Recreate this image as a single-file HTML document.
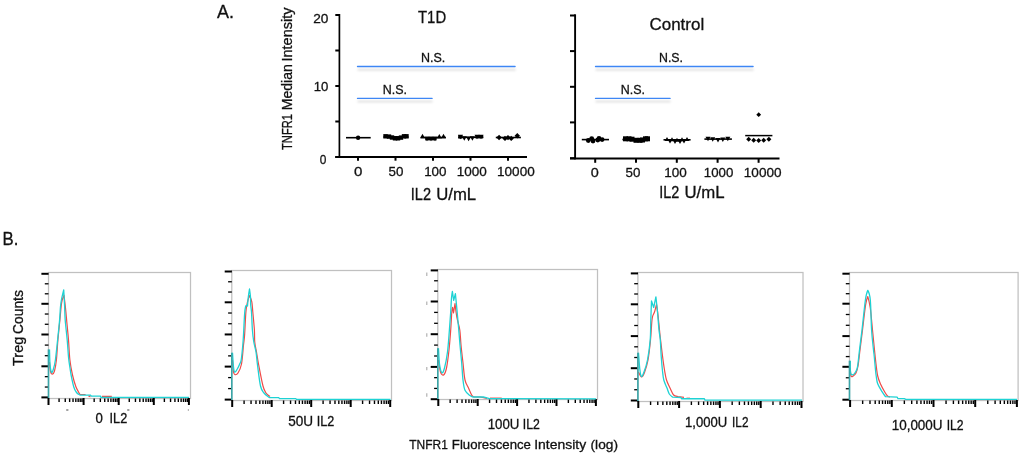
<!DOCTYPE html>
<html><head><meta charset="utf-8"><style>
html,body{margin:0;padding:0;background:#fff;width:1024px;height:456px;overflow:hidden}
svg{display:block;will-change:transform}
text{font-family:"Liberation Sans",sans-serif;fill:#111;stroke:#111;stroke-width:0.3}
</style></head><body>
<svg width="1024" height="456" viewBox="0 0 1024 456">
<rect width="1024" height="456" fill="#fff"/>
<line x1="339.40" y1="14.00" x2="339.40" y2="157.90" stroke="#000" stroke-width="1.7" />
<line x1="335.30" y1="15.00" x2="339.40" y2="15.00" stroke="#000" stroke-width="2" />
<line x1="335.30" y1="50.50" x2="339.40" y2="50.50" stroke="#000" stroke-width="2" />
<line x1="335.30" y1="86.00" x2="339.40" y2="86.00" stroke="#000" stroke-width="2" />
<line x1="335.30" y1="121.50" x2="339.40" y2="121.50" stroke="#000" stroke-width="2" />
<line x1="335.30" y1="157.00" x2="339.40" y2="157.00" stroke="#000" stroke-width="2" />
<line x1="335.30" y1="156.90" x2="527.00" y2="156.90" stroke="#000" stroke-width="2" />
<line x1="358.00" y1="156.90" x2="358.00" y2="160.70" stroke="#000" stroke-width="2" />
<line x1="395.50" y1="156.90" x2="395.50" y2="160.70" stroke="#000" stroke-width="2" />
<line x1="433.00" y1="156.90" x2="433.00" y2="160.70" stroke="#000" stroke-width="2" />
<line x1="470.50" y1="156.90" x2="470.50" y2="160.70" stroke="#000" stroke-width="2" />
<line x1="508.00" y1="156.90" x2="508.00" y2="160.70" stroke="#000" stroke-width="2" />
<line x1="575.10" y1="14.30" x2="575.10" y2="159.40" stroke="#000" stroke-width="1.9" />
<line x1="570.00" y1="15.50" x2="575.10" y2="15.50" stroke="#000" stroke-width="2" />
<line x1="570.00" y1="51.10" x2="575.10" y2="51.10" stroke="#000" stroke-width="2" />
<line x1="570.00" y1="86.80" x2="575.10" y2="86.80" stroke="#000" stroke-width="2" />
<line x1="570.00" y1="122.40" x2="575.10" y2="122.40" stroke="#000" stroke-width="2" />
<line x1="570.00" y1="158.20" x2="575.10" y2="158.20" stroke="#000" stroke-width="2" />
<line x1="570.00" y1="158.40" x2="779.50" y2="158.40" stroke="#000" stroke-width="2" />
<line x1="595.20" y1="158.40" x2="595.20" y2="162.80" stroke="#000" stroke-width="2" />
<line x1="636.00" y1="158.40" x2="636.00" y2="162.80" stroke="#000" stroke-width="2" />
<line x1="676.80" y1="158.40" x2="676.80" y2="162.80" stroke="#000" stroke-width="2" />
<line x1="717.60" y1="158.40" x2="717.60" y2="162.80" stroke="#000" stroke-width="2" />
<line x1="758.60" y1="158.40" x2="758.60" y2="162.80" stroke="#000" stroke-width="2" />
<defs><filter id="sh" filterUnits="userSpaceOnUse" x="0" y="0" width="1024" height="220"><feGaussianBlur stdDeviation="1.1"/></filter></defs>
<line x1="357.5" y1="69.7" x2="515.6" y2="69.7" stroke="#000" stroke-opacity="0.12" stroke-width="2" filter="url(#sh)"/>
<line x1="357.50" y1="66.50" x2="515.10" y2="66.50" stroke="#3d86f5" stroke-width="1.3" stroke-linecap="round"/>
<line x1="357.5" y1="101.60000000000001" x2="432.6" y2="101.60000000000001" stroke="#000" stroke-opacity="0.12" stroke-width="2" filter="url(#sh)"/>
<line x1="357.50" y1="98.40" x2="432.10" y2="98.40" stroke="#3d86f5" stroke-width="1.3" stroke-linecap="round"/>
<line x1="595.5" y1="69.7" x2="753.6" y2="69.7" stroke="#000" stroke-opacity="0.12" stroke-width="2" filter="url(#sh)"/>
<line x1="595.50" y1="66.50" x2="753.10" y2="66.50" stroke="#3d86f5" stroke-width="1.3" stroke-linecap="round"/>
<line x1="595.5" y1="101.60000000000001" x2="670.6" y2="101.60000000000001" stroke="#000" stroke-opacity="0.12" stroke-width="2" filter="url(#sh)"/>
<line x1="595.50" y1="98.40" x2="670.10" y2="98.40" stroke="#3d86f5" stroke-width="1.3" stroke-linecap="round"/>
<line x1="346.00" y1="137.70" x2="370.70" y2="137.70" stroke="#000" stroke-width="1.6" />
<circle cx="358.1" cy="137.7" r="2.2" fill="#000"/>
<line x1="383.50" y1="137.00" x2="408.50" y2="137.00" stroke="#000" stroke-width="1.6" />
<rect x="383.30" y="134.10" width="4.4" height="4.4" fill="#000"/>
<rect x="386.80" y="134.40" width="4.4" height="4.4" fill="#000"/>
<rect x="389.80" y="135.30" width="4.4" height="4.4" fill="#000"/>
<rect x="392.80" y="136.10" width="4.4" height="4.4" fill="#000"/>
<rect x="395.80" y="136.10" width="4.4" height="4.4" fill="#000"/>
<rect x="398.80" y="135.40" width="4.4" height="4.4" fill="#000"/>
<rect x="401.80" y="134.10" width="4.4" height="4.4" fill="#000"/>
<rect x="404.30" y="134.10" width="4.4" height="4.4" fill="#000"/>
<line x1="420.80" y1="137.50" x2="445.90" y2="137.50" stroke="#000" stroke-width="1.6" />
<polygon points="420.00,138.25 425.00,138.25 422.50,133.75" fill="#000"/>
<polygon points="424.50,136.75 429.50,136.75 427.00,141.25" fill="#000"/>
<polygon points="428.50,136.75 433.50,136.75 431.00,141.25" fill="#000"/>
<polygon points="432.50,136.75 437.50,136.75 435.00,141.25" fill="#000"/>
<polygon points="436.80,138.55 441.80,138.55 439.30,134.05" fill="#000"/>
<polygon points="441.00,138.25 446.00,138.25 443.50,133.75" fill="#000"/>
<rect x="425.2" y="137.5" width="11.4" height="2.9" fill="#000"/>
<line x1="458.20" y1="137.30" x2="483.30" y2="137.30" stroke="#000" stroke-width="1.6" />
<polygon points="458.00,134.75 463.00,134.75 460.50,139.25" fill="#000"/>
<polygon points="461.80,136.25 466.80,136.25 464.30,140.75" fill="#000"/>
<polygon points="466.10,136.75 471.10,136.75 468.60,141.25" fill="#000"/>
<polygon points="469.90,136.25 474.90,136.25 472.40,140.75" fill="#000"/>
<polygon points="474.50,134.75 479.50,134.75 477.00,139.25" fill="#000"/>
<polygon points="478.50,134.75 483.50,134.75 481.00,139.25" fill="#000"/>
<rect x="458.3" y="135" width="4" height="3.6" fill="#000"/>
<rect x="475.5" y="135" width="7.7" height="3.4" fill="#000"/>
<line x1="495.80" y1="137.50" x2="520.90" y2="137.50" stroke="#000" stroke-width="1.6" />
<polygon points="499.1,134.8 501.8,137.5 499.1,140.2 496.40000000000003,137.5" fill="#000"/>
<polygon points="505,135.70000000000002 507.7,138.4 505,141.1 502.3,138.4" fill="#000"/>
<polygon points="508,134.9 510.7,137.6 508,140.29999999999998 505.3,137.6" fill="#000"/>
<polygon points="511.2,135.70000000000002 513.9,138.4 511.2,141.1 508.5,138.4" fill="#000"/>
<polygon points="517.3,133.0 520.0,135.7 517.3,138.39999999999998 514.5999999999999,135.7" fill="#000"/>
<line x1="581.80" y1="139.60" x2="609.00" y2="139.60" stroke="#000" stroke-width="1.6" />
<circle cx="588.3" cy="140.5" r="2.4" fill="#000"/>
<circle cx="591.7" cy="138.6" r="2.4" fill="#000"/>
<circle cx="593" cy="141" r="2.4" fill="#000"/>
<circle cx="597.8" cy="140" r="2.4" fill="#000"/>
<circle cx="599" cy="138.4" r="2.4" fill="#000"/>
<circle cx="602.1" cy="139.6" r="2.4" fill="#000"/>
<line x1="622.40" y1="139.50" x2="649.80" y2="139.50" stroke="#000" stroke-width="1.6" />
<rect x="623.00" y="136.30" width="5" height="5" fill="#000"/>
<rect x="626.50" y="136.30" width="5" height="5" fill="#000"/>
<rect x="629.50" y="136.70" width="5" height="5" fill="#000"/>
<rect x="633.50" y="137.80" width="5" height="5" fill="#000"/>
<rect x="637.50" y="137.80" width="5" height="5" fill="#000"/>
<rect x="640.00" y="137.50" width="5" height="5" fill="#000"/>
<rect x="643.00" y="136.30" width="5" height="5" fill="#000"/>
<rect x="645.00" y="136.30" width="5" height="5" fill="#000"/>
<line x1="663.50" y1="139.80" x2="690.60" y2="139.80" stroke="#000" stroke-width="1.6" />
<polygon points="664.70,141.07 669.30,141.07 667.00,136.93" fill="#000"/>
<polygon points="669.70,141.27 674.30,141.27 672.00,137.13" fill="#000"/>
<polygon points="674.70,141.87 679.30,141.87 677.00,137.73" fill="#000"/>
<polygon points="679.70,141.27 684.30,141.27 682.00,137.13" fill="#000"/>
<polygon points="684.70,141.07 689.30,141.07 687.00,136.93" fill="#000"/>
<polygon points="667.70,139.43 672.30,139.43 670.00,143.57" fill="#000"/>
<polygon points="672.70,139.93 677.30,139.93 675.00,144.07" fill="#000"/>
<polygon points="677.70,139.93 682.30,139.93 680.00,144.07" fill="#000"/>
<polygon points="681.70,139.43 686.30,139.43 684.00,143.57" fill="#000"/>
<line x1="704.40" y1="139.10" x2="731.90" y2="139.10" stroke="#000" stroke-width="1.6" />
<polygon points="705.50,136.75 710.50,136.75 708.00,141.25" fill="#000"/>
<polygon points="710.20,137.25 715.20,137.25 712.70,141.75" fill="#000"/>
<polygon points="715.50,138.05 720.50,138.05 718.00,142.55" fill="#000"/>
<polygon points="720.30,137.55 725.30,137.55 722.80,142.05" fill="#000"/>
<polygon points="725.30,136.75 730.30,136.75 727.80,141.25" fill="#000"/>
<line x1="745.20" y1="135.60" x2="772.40" y2="135.60" stroke="#000" stroke-width="1.5" />
<polygon points="758.7,112.3 761.1,114.7 758.7,117.10000000000001 756.3000000000001,114.7" fill="#000"/>
<polygon points="748.7,136.7 751.2,139.2 748.7,141.7 746.2,139.2" fill="#000"/>
<polygon points="753.7,137.7 756.2,140.2 753.7,142.7 751.2,140.2" fill="#000"/>
<polygon points="758.7,137.9 761.2,140.4 758.7,142.9 756.2,140.4" fill="#000"/>
<polygon points="763.7,137.7 766.2,140.2 763.7,142.7 761.2,140.2" fill="#000"/>
<polygon points="768.9,136.7 771.4,139.2 768.9,141.7 766.4,139.2" fill="#000"/>
<rect x="48.50" y="272.50" width="142.00" height="126.00" fill="none" stroke="#c0c0c0" stroke-width="1.25"/>
<line x1="41.40" y1="273.80" x2="48.60" y2="273.80" stroke="#000" stroke-width="2" />
<line x1="44.80" y1="283.80" x2="48.50" y2="283.80" stroke="#000" stroke-width="1.3" />
<line x1="44.80" y1="293.80" x2="48.50" y2="293.80" stroke="#000" stroke-width="1.3" />
<line x1="41.40" y1="303.80" x2="48.60" y2="303.80" stroke="#000" stroke-width="2" />
<line x1="44.80" y1="314.03" x2="48.50" y2="314.03" stroke="#000" stroke-width="1.3" />
<line x1="44.80" y1="324.27" x2="48.50" y2="324.27" stroke="#000" stroke-width="1.3" />
<line x1="41.40" y1="334.50" x2="48.60" y2="334.50" stroke="#000" stroke-width="2" />
<line x1="44.80" y1="345.10" x2="48.50" y2="345.10" stroke="#000" stroke-width="1.3" />
<line x1="44.80" y1="355.70" x2="48.50" y2="355.70" stroke="#000" stroke-width="1.3" />
<line x1="41.40" y1="366.30" x2="48.60" y2="366.30" stroke="#000" stroke-width="2" />
<line x1="44.80" y1="376.67" x2="48.50" y2="376.67" stroke="#000" stroke-width="1.3" />
<line x1="44.80" y1="387.03" x2="48.50" y2="387.03" stroke="#000" stroke-width="1.3" />
<line x1="41.40" y1="397.40" x2="48.60" y2="397.40" stroke="#000" stroke-width="2" />
<line x1="48.50" y1="398.00" x2="48.50" y2="405.00" stroke="#000" stroke-width="2" />
<line x1="59.07" y1="398.50" x2="59.07" y2="402.00" stroke="#000" stroke-width="1.4" />
<line x1="65.25" y1="398.50" x2="65.25" y2="402.00" stroke="#000" stroke-width="1.4" />
<line x1="69.63" y1="398.50" x2="69.63" y2="402.00" stroke="#000" stroke-width="1.4" />
<line x1="73.03" y1="398.50" x2="73.03" y2="402.00" stroke="#000" stroke-width="1.4" />
<line x1="75.81" y1="398.50" x2="75.81" y2="402.00" stroke="#000" stroke-width="1.4" />
<line x1="78.16" y1="398.50" x2="78.16" y2="402.00" stroke="#000" stroke-width="1.4" />
<line x1="80.20" y1="398.50" x2="80.20" y2="402.00" stroke="#000" stroke-width="1.4" />
<line x1="81.99" y1="398.50" x2="81.99" y2="402.00" stroke="#000" stroke-width="1.4" />
<line x1="83.60" y1="398.00" x2="83.60" y2="405.00" stroke="#000" stroke-width="2" />
<line x1="94.17" y1="398.50" x2="94.17" y2="402.00" stroke="#000" stroke-width="1.4" />
<line x1="100.35" y1="398.50" x2="100.35" y2="402.00" stroke="#000" stroke-width="1.4" />
<line x1="104.73" y1="398.50" x2="104.73" y2="402.00" stroke="#000" stroke-width="1.4" />
<line x1="108.13" y1="398.50" x2="108.13" y2="402.00" stroke="#000" stroke-width="1.4" />
<line x1="110.91" y1="398.50" x2="110.91" y2="402.00" stroke="#000" stroke-width="1.4" />
<line x1="113.26" y1="398.50" x2="113.26" y2="402.00" stroke="#000" stroke-width="1.4" />
<line x1="115.30" y1="398.50" x2="115.30" y2="402.00" stroke="#000" stroke-width="1.4" />
<line x1="117.09" y1="398.50" x2="117.09" y2="402.00" stroke="#000" stroke-width="1.4" />
<line x1="118.70" y1="398.00" x2="118.70" y2="405.00" stroke="#000" stroke-width="2" />
<line x1="129.27" y1="398.50" x2="129.27" y2="402.00" stroke="#000" stroke-width="1.4" />
<line x1="135.45" y1="398.50" x2="135.45" y2="402.00" stroke="#000" stroke-width="1.4" />
<line x1="139.83" y1="398.50" x2="139.83" y2="402.00" stroke="#000" stroke-width="1.4" />
<line x1="143.23" y1="398.50" x2="143.23" y2="402.00" stroke="#000" stroke-width="1.4" />
<line x1="146.01" y1="398.50" x2="146.01" y2="402.00" stroke="#000" stroke-width="1.4" />
<line x1="148.36" y1="398.50" x2="148.36" y2="402.00" stroke="#000" stroke-width="1.4" />
<line x1="150.40" y1="398.50" x2="150.40" y2="402.00" stroke="#000" stroke-width="1.4" />
<line x1="152.19" y1="398.50" x2="152.19" y2="402.00" stroke="#000" stroke-width="1.4" />
<line x1="153.80" y1="398.00" x2="153.80" y2="405.00" stroke="#000" stroke-width="2" />
<line x1="164.37" y1="398.50" x2="164.37" y2="402.00" stroke="#000" stroke-width="1.4" />
<line x1="170.55" y1="398.50" x2="170.55" y2="402.00" stroke="#000" stroke-width="1.4" />
<line x1="174.93" y1="398.50" x2="174.93" y2="402.00" stroke="#000" stroke-width="1.4" />
<line x1="178.33" y1="398.50" x2="178.33" y2="402.00" stroke="#000" stroke-width="1.4" />
<line x1="181.11" y1="398.50" x2="181.11" y2="402.00" stroke="#000" stroke-width="1.4" />
<line x1="183.46" y1="398.50" x2="183.46" y2="402.00" stroke="#000" stroke-width="1.4" />
<line x1="185.50" y1="398.50" x2="185.50" y2="402.00" stroke="#000" stroke-width="1.4" />
<line x1="187.29" y1="398.50" x2="187.29" y2="402.00" stroke="#000" stroke-width="1.4" />
<line x1="188.90" y1="398.00" x2="188.90" y2="405.00" stroke="#000" stroke-width="2" />
<path d="M49.50,362.00 C49.67,363.58 50.03,369.47 50.50,371.50 C50.97,373.53 51.63,374.28 52.30,374.20 C52.97,374.12 53.82,373.37 54.50,371.00 C55.18,368.63 55.83,365.17 56.40,360.00 C56.97,354.83 57.32,346.67 57.90,340.00 C58.48,333.33 59.35,325.67 59.90,320.00 C60.45,314.33 60.82,309.33 61.20,306.00 C61.58,302.67 61.73,301.80 62.20,300.00 C62.67,298.20 64.00,295.20 64.00,295.20 C64.00,295.20 65.03,303.53 65.50,308.00 C65.97,312.47 66.30,316.67 66.80,322.00 C67.30,327.33 67.98,333.67 68.50,340.00 C69.02,346.33 69.23,354.17 69.90,360.00 C70.57,365.83 71.48,370.50 72.50,375.00 C73.52,379.50 74.75,383.75 76.00,387.00 C77.25,390.25 79.33,393.25 80.00,394.50 L85.6,394.5" fill="none" stroke="#f04a48" stroke-width="1.2" stroke-linejoin="round"/>
<path d="M102,396.4 L111.8,396.4" fill="none" stroke="#f04a48" stroke-width="1.3"/>
<path d="M88.5,396 L90.5,396.5" fill="none" stroke="#f04a48" stroke-width="1.3"/>
<path d="M49.50,349.40 C49.58,351.83 49.67,360.18 50.00,364.00 C50.33,367.82 50.95,371.38 51.50,372.30 C52.05,373.22 52.65,371.55 53.30,369.50 C53.95,367.45 54.68,364.92 55.40,360.00 C56.12,355.08 56.90,346.67 57.60,340.00 C58.30,333.33 59.12,325.57 59.60,320.00 C60.08,314.43 60.18,310.02 60.50,306.60 C60.82,303.18 60.97,302.28 61.50,299.50 C62.03,296.72 63.70,289.90 63.70,289.90 C63.70,289.90 64.35,300.98 64.60,306.00 C64.85,311.02 64.77,314.33 65.20,320.00 C65.63,325.67 66.63,333.67 67.20,340.00 C67.77,346.33 68.13,353.33 68.60,358.00 C69.07,362.67 69.57,365.08 70.00,368.00 C70.43,370.92 70.57,372.33 71.20,375.50 C71.83,378.67 72.92,384.17 73.80,387.00 C74.68,389.83 75.43,391.13 76.50,392.50 C77.57,393.87 79.58,394.75 80.20,395.20 L90.7,395.2 L91.2,396.1 L100.5,396.1 L101,397.4 L189,397.4" fill="none" stroke="#1ed2d4" stroke-width="1.3" stroke-linejoin="round"/>
<line x1="48.50" y1="349.40" x2="48.50" y2="398.00" stroke="#3aa6a8" stroke-width="1.6" />
<rect x="231.80" y="270.50" width="159.70" height="130.00" fill="none" stroke="#c0c0c0" stroke-width="1.25"/>
<line x1="224.70" y1="271.50" x2="231.90" y2="271.50" stroke="#000" stroke-width="2" />
<line x1="228.10" y1="281.77" x2="231.80" y2="281.77" stroke="#000" stroke-width="1.3" />
<line x1="228.10" y1="292.03" x2="231.80" y2="292.03" stroke="#000" stroke-width="1.3" />
<line x1="224.70" y1="302.30" x2="231.90" y2="302.30" stroke="#000" stroke-width="2" />
<line x1="228.10" y1="313.02" x2="231.80" y2="313.02" stroke="#000" stroke-width="1.3" />
<line x1="228.10" y1="323.73" x2="231.80" y2="323.73" stroke="#000" stroke-width="1.3" />
<line x1="224.70" y1="334.45" x2="231.90" y2="334.45" stroke="#000" stroke-width="2" />
<line x1="228.10" y1="345.17" x2="231.80" y2="345.17" stroke="#000" stroke-width="1.3" />
<line x1="228.10" y1="355.88" x2="231.80" y2="355.88" stroke="#000" stroke-width="1.3" />
<line x1="224.70" y1="366.60" x2="231.90" y2="366.60" stroke="#000" stroke-width="2" />
<line x1="228.10" y1="377.60" x2="231.80" y2="377.60" stroke="#000" stroke-width="1.3" />
<line x1="228.10" y1="388.60" x2="231.80" y2="388.60" stroke="#000" stroke-width="1.3" />
<line x1="224.70" y1="399.60" x2="231.90" y2="399.60" stroke="#000" stroke-width="2" />
<line x1="232.20" y1="400.00" x2="232.20" y2="407.00" stroke="#000" stroke-width="2" />
<line x1="244.09" y1="400.50" x2="244.09" y2="404.00" stroke="#000" stroke-width="1.4" />
<line x1="251.05" y1="400.50" x2="251.05" y2="404.00" stroke="#000" stroke-width="1.4" />
<line x1="255.98" y1="400.50" x2="255.98" y2="404.00" stroke="#000" stroke-width="1.4" />
<line x1="259.81" y1="400.50" x2="259.81" y2="404.00" stroke="#000" stroke-width="1.4" />
<line x1="262.94" y1="400.50" x2="262.94" y2="404.00" stroke="#000" stroke-width="1.4" />
<line x1="265.58" y1="400.50" x2="265.58" y2="404.00" stroke="#000" stroke-width="1.4" />
<line x1="267.87" y1="400.50" x2="267.87" y2="404.00" stroke="#000" stroke-width="1.4" />
<line x1="269.89" y1="400.50" x2="269.89" y2="404.00" stroke="#000" stroke-width="1.4" />
<line x1="271.70" y1="400.00" x2="271.70" y2="407.00" stroke="#000" stroke-width="2" />
<line x1="283.59" y1="400.50" x2="283.59" y2="404.00" stroke="#000" stroke-width="1.4" />
<line x1="290.55" y1="400.50" x2="290.55" y2="404.00" stroke="#000" stroke-width="1.4" />
<line x1="295.48" y1="400.50" x2="295.48" y2="404.00" stroke="#000" stroke-width="1.4" />
<line x1="299.31" y1="400.50" x2="299.31" y2="404.00" stroke="#000" stroke-width="1.4" />
<line x1="302.44" y1="400.50" x2="302.44" y2="404.00" stroke="#000" stroke-width="1.4" />
<line x1="305.08" y1="400.50" x2="305.08" y2="404.00" stroke="#000" stroke-width="1.4" />
<line x1="307.37" y1="400.50" x2="307.37" y2="404.00" stroke="#000" stroke-width="1.4" />
<line x1="309.39" y1="400.50" x2="309.39" y2="404.00" stroke="#000" stroke-width="1.4" />
<line x1="311.20" y1="400.00" x2="311.20" y2="407.00" stroke="#000" stroke-width="2" />
<line x1="323.09" y1="400.50" x2="323.09" y2="404.00" stroke="#000" stroke-width="1.4" />
<line x1="330.05" y1="400.50" x2="330.05" y2="404.00" stroke="#000" stroke-width="1.4" />
<line x1="334.98" y1="400.50" x2="334.98" y2="404.00" stroke="#000" stroke-width="1.4" />
<line x1="338.81" y1="400.50" x2="338.81" y2="404.00" stroke="#000" stroke-width="1.4" />
<line x1="341.94" y1="400.50" x2="341.94" y2="404.00" stroke="#000" stroke-width="1.4" />
<line x1="344.58" y1="400.50" x2="344.58" y2="404.00" stroke="#000" stroke-width="1.4" />
<line x1="346.87" y1="400.50" x2="346.87" y2="404.00" stroke="#000" stroke-width="1.4" />
<line x1="348.89" y1="400.50" x2="348.89" y2="404.00" stroke="#000" stroke-width="1.4" />
<line x1="350.70" y1="400.00" x2="350.70" y2="407.00" stroke="#000" stroke-width="2" />
<line x1="362.59" y1="400.50" x2="362.59" y2="404.00" stroke="#000" stroke-width="1.4" />
<line x1="369.55" y1="400.50" x2="369.55" y2="404.00" stroke="#000" stroke-width="1.4" />
<line x1="374.48" y1="400.50" x2="374.48" y2="404.00" stroke="#000" stroke-width="1.4" />
<line x1="378.31" y1="400.50" x2="378.31" y2="404.00" stroke="#000" stroke-width="1.4" />
<line x1="381.44" y1="400.50" x2="381.44" y2="404.00" stroke="#000" stroke-width="1.4" />
<line x1="384.08" y1="400.50" x2="384.08" y2="404.00" stroke="#000" stroke-width="1.4" />
<line x1="386.37" y1="400.50" x2="386.37" y2="404.00" stroke="#000" stroke-width="1.4" />
<line x1="388.39" y1="400.50" x2="388.39" y2="404.00" stroke="#000" stroke-width="1.4" />
<line x1="390.20" y1="400.00" x2="390.20" y2="407.00" stroke="#000" stroke-width="2" />
<path d="M232.50,360.00 C232.67,362.00 233.08,369.55 233.50,372.00 C233.92,374.45 234.25,374.53 235.00,374.70 C235.75,374.87 236.92,374.78 238.00,373.00 C239.08,371.22 240.58,368.67 241.50,364.00 C242.42,359.33 242.98,349.83 243.50,345.00 C244.02,340.17 244.20,340.50 244.60,335.00 C245.00,329.50 245.42,317.50 245.90,312.00 C246.38,306.50 246.90,304.75 247.50,302.00 C248.10,299.25 249.50,295.50 249.50,295.50 C249.50,295.50 251.25,299.05 251.80,301.80 C252.35,304.55 252.37,307.30 252.80,312.00 C253.23,316.70 254.08,325.00 254.40,330.00 C254.72,335.00 254.40,338.33 254.75,342.00 C255.10,345.67 255.84,348.17 256.50,352.00 C257.16,355.83 257.62,359.33 258.70,365.00 C259.78,370.67 261.78,381.33 263.00,386.00 C264.22,390.67 264.83,391.25 266.00,393.00 C267.17,394.75 269.33,395.92 270.00,396.50" fill="none" stroke="#f04a48" stroke-width="1.2" stroke-linejoin="round"/>
<path d="M232.50,352.80 C232.67,355.17 233.13,363.78 233.50,367.00 C233.87,370.22 234.12,371.68 234.70,372.10 C235.28,372.52 236.20,370.77 237.00,369.50 C237.80,368.23 238.80,366.12 239.50,364.50 C240.20,362.88 240.65,363.05 241.20,359.80 C241.75,356.55 242.40,349.47 242.80,345.00 C243.20,340.53 243.30,338.17 243.60,333.00 C243.90,327.83 244.28,318.33 244.60,314.00 C244.92,309.67 245.18,308.42 245.50,307.00 C245.82,305.58 246.50,305.50 246.50,305.50 C246.50,305.50 247.50,306.00 247.50,306.00 C247.50,306.00 247.97,299.83 248.30,297.00 C248.63,294.17 249.50,289.00 249.50,289.00 C249.50,289.00 250.30,294.33 250.50,297.00 C250.70,299.67 250.53,302.50 250.70,305.00 C250.87,307.50 251.22,307.83 251.50,312.00 C251.78,316.17 252.02,325.00 252.40,330.00 C252.78,335.00 253.20,338.33 253.80,342.00 C254.40,345.67 255.38,348.17 256.00,352.00 C256.62,355.83 256.75,359.33 257.50,365.00 C258.25,370.67 259.42,381.33 260.50,386.00 C261.58,390.67 262.53,391.07 264.00,393.00 C265.47,394.93 268.42,396.83 269.30,397.60 L278.7,397.6 L279.5,398.6 L295.8,398.6 L296.5,399.4 L390.5,399.4" fill="none" stroke="#1ed2d4" stroke-width="1.3" stroke-linejoin="round"/>
<line x1="231.80" y1="352.80" x2="231.80" y2="400.00" stroke="#3aa6a8" stroke-width="1.6" />
<rect x="437.80" y="269.50" width="159.70" height="130.00" fill="none" stroke="#c0c0c0" stroke-width="1.25"/>
<line x1="430.70" y1="270.40" x2="437.90" y2="270.40" stroke="#000" stroke-width="2" />
<line x1="434.10" y1="280.77" x2="437.80" y2="280.77" stroke="#000" stroke-width="1.3" />
<line x1="434.10" y1="291.13" x2="437.80" y2="291.13" stroke="#000" stroke-width="1.3" />
<line x1="430.70" y1="301.50" x2="437.90" y2="301.50" stroke="#000" stroke-width="2" />
<line x1="434.10" y1="312.40" x2="437.80" y2="312.40" stroke="#000" stroke-width="1.3" />
<line x1="434.10" y1="323.30" x2="437.80" y2="323.30" stroke="#000" stroke-width="1.3" />
<line x1="430.70" y1="334.20" x2="437.90" y2="334.20" stroke="#000" stroke-width="2" />
<line x1="434.10" y1="345.10" x2="437.80" y2="345.10" stroke="#000" stroke-width="1.3" />
<line x1="434.10" y1="356.00" x2="437.80" y2="356.00" stroke="#000" stroke-width="1.3" />
<line x1="430.70" y1="366.90" x2="437.90" y2="366.90" stroke="#000" stroke-width="2" />
<line x1="434.10" y1="377.67" x2="437.80" y2="377.67" stroke="#000" stroke-width="1.3" />
<line x1="434.10" y1="388.43" x2="437.80" y2="388.43" stroke="#000" stroke-width="1.3" />
<line x1="430.70" y1="399.20" x2="437.90" y2="399.20" stroke="#000" stroke-width="2" />
<line x1="438.30" y1="399.00" x2="438.30" y2="406.00" stroke="#000" stroke-width="2" />
<line x1="450.16" y1="399.50" x2="450.16" y2="403.00" stroke="#000" stroke-width="1.4" />
<line x1="457.10" y1="399.50" x2="457.10" y2="403.00" stroke="#000" stroke-width="1.4" />
<line x1="462.02" y1="399.50" x2="462.02" y2="403.00" stroke="#000" stroke-width="1.4" />
<line x1="465.84" y1="399.50" x2="465.84" y2="403.00" stroke="#000" stroke-width="1.4" />
<line x1="468.96" y1="399.50" x2="468.96" y2="403.00" stroke="#000" stroke-width="1.4" />
<line x1="471.60" y1="399.50" x2="471.60" y2="403.00" stroke="#000" stroke-width="1.4" />
<line x1="473.88" y1="399.50" x2="473.88" y2="403.00" stroke="#000" stroke-width="1.4" />
<line x1="475.90" y1="399.50" x2="475.90" y2="403.00" stroke="#000" stroke-width="1.4" />
<line x1="477.70" y1="399.00" x2="477.70" y2="406.00" stroke="#000" stroke-width="2" />
<line x1="489.56" y1="399.50" x2="489.56" y2="403.00" stroke="#000" stroke-width="1.4" />
<line x1="496.50" y1="399.50" x2="496.50" y2="403.00" stroke="#000" stroke-width="1.4" />
<line x1="501.42" y1="399.50" x2="501.42" y2="403.00" stroke="#000" stroke-width="1.4" />
<line x1="505.24" y1="399.50" x2="505.24" y2="403.00" stroke="#000" stroke-width="1.4" />
<line x1="508.36" y1="399.50" x2="508.36" y2="403.00" stroke="#000" stroke-width="1.4" />
<line x1="511.00" y1="399.50" x2="511.00" y2="403.00" stroke="#000" stroke-width="1.4" />
<line x1="513.28" y1="399.50" x2="513.28" y2="403.00" stroke="#000" stroke-width="1.4" />
<line x1="515.30" y1="399.50" x2="515.30" y2="403.00" stroke="#000" stroke-width="1.4" />
<line x1="517.10" y1="399.00" x2="517.10" y2="406.00" stroke="#000" stroke-width="2" />
<line x1="528.96" y1="399.50" x2="528.96" y2="403.00" stroke="#000" stroke-width="1.4" />
<line x1="535.90" y1="399.50" x2="535.90" y2="403.00" stroke="#000" stroke-width="1.4" />
<line x1="540.82" y1="399.50" x2="540.82" y2="403.00" stroke="#000" stroke-width="1.4" />
<line x1="544.64" y1="399.50" x2="544.64" y2="403.00" stroke="#000" stroke-width="1.4" />
<line x1="547.76" y1="399.50" x2="547.76" y2="403.00" stroke="#000" stroke-width="1.4" />
<line x1="550.40" y1="399.50" x2="550.40" y2="403.00" stroke="#000" stroke-width="1.4" />
<line x1="552.68" y1="399.50" x2="552.68" y2="403.00" stroke="#000" stroke-width="1.4" />
<line x1="554.70" y1="399.50" x2="554.70" y2="403.00" stroke="#000" stroke-width="1.4" />
<line x1="556.50" y1="399.00" x2="556.50" y2="406.00" stroke="#000" stroke-width="2" />
<line x1="568.36" y1="399.50" x2="568.36" y2="403.00" stroke="#000" stroke-width="1.4" />
<line x1="575.30" y1="399.50" x2="575.30" y2="403.00" stroke="#000" stroke-width="1.4" />
<line x1="580.22" y1="399.50" x2="580.22" y2="403.00" stroke="#000" stroke-width="1.4" />
<line x1="584.04" y1="399.50" x2="584.04" y2="403.00" stroke="#000" stroke-width="1.4" />
<line x1="587.16" y1="399.50" x2="587.16" y2="403.00" stroke="#000" stroke-width="1.4" />
<line x1="589.80" y1="399.50" x2="589.80" y2="403.00" stroke="#000" stroke-width="1.4" />
<line x1="592.08" y1="399.50" x2="592.08" y2="403.00" stroke="#000" stroke-width="1.4" />
<line x1="594.10" y1="399.50" x2="594.10" y2="403.00" stroke="#000" stroke-width="1.4" />
<line x1="595.90" y1="399.00" x2="595.90" y2="406.00" stroke="#000" stroke-width="2" />
<path d="M438.50,360.00 C438.83,362.00 439.65,369.50 440.50,372.00 C441.35,374.50 442.60,375.67 443.60,375.00 C444.60,374.33 445.60,372.17 446.50,368.00 C447.40,363.83 448.30,356.33 449.00,350.00 C449.70,343.67 450.23,336.33 450.70,330.00 C451.17,323.67 451.48,315.77 451.80,312.00 C452.12,308.23 452.60,307.40 452.60,307.40 C452.60,307.40 453.50,312.90 453.50,312.90 C453.50,312.90 455.00,303.60 455.00,303.60 C455.00,303.60 456.20,313.60 457.00,318.00 C457.80,322.40 459.13,325.50 459.80,330.00 C460.47,334.50 460.47,339.50 461.00,345.00 C461.53,350.50 462.33,357.17 463.00,363.00 C463.67,368.83 464.08,375.83 465.00,380.00 C465.92,384.17 467.33,385.40 468.50,388.00 C469.67,390.60 471.08,394.13 472.00,395.60 C472.92,397.07 473.67,396.60 474.00,396.80 L480,397 L487,398.3" fill="none" stroke="#f04a48" stroke-width="1.2" stroke-linejoin="round"/>
<path d="M490,398.2 L501.7,398.2" fill="none" stroke="#f04a48" stroke-width="1.3"/>
<path d="M438.50,348.20 C438.67,350.83 438.93,359.92 439.50,364.00 C440.07,368.08 441.07,372.03 441.90,372.70 C442.73,373.37 443.57,371.45 444.50,368.00 C445.43,364.55 446.68,358.33 447.50,352.00 C448.32,345.67 448.87,336.67 449.40,330.00 C449.93,323.33 450.35,317.33 450.70,312.00 C451.05,306.67 451.22,301.42 451.50,298.00 C451.78,294.58 452.40,291.50 452.40,291.50 C452.40,291.50 453.70,300.30 453.70,300.30 C453.70,300.30 455.40,293.70 455.40,293.70 C455.40,293.70 455.97,299.28 456.50,305.00 C457.03,310.72 458.02,321.33 458.60,328.00 C459.18,334.67 459.48,339.17 460.00,345.00 C460.52,350.83 461.20,357.17 461.70,363.00 C462.20,368.83 462.45,375.47 463.00,380.00 C463.55,384.53 463.83,387.60 465.00,390.20 C466.17,392.80 468.70,394.47 470.00,395.60 C471.30,396.73 472.33,396.77 472.80,397.00 L483.3,397 L489.6,398.6 L596,398.9" fill="none" stroke="#1ed2d4" stroke-width="1.3" stroke-linejoin="round"/>
<line x1="437.80" y1="348.20" x2="437.80" y2="399.00" stroke="#3aa6a8" stroke-width="1.6" />
<rect x="637.90" y="272.50" width="165.10" height="129.00" fill="none" stroke="#c0c0c0" stroke-width="1.25"/>
<line x1="630.80" y1="273.40" x2="638.00" y2="273.40" stroke="#000" stroke-width="2" />
<line x1="634.20" y1="283.70" x2="637.90" y2="283.70" stroke="#000" stroke-width="1.3" />
<line x1="634.20" y1="294.00" x2="637.90" y2="294.00" stroke="#000" stroke-width="1.3" />
<line x1="630.80" y1="304.30" x2="638.00" y2="304.30" stroke="#000" stroke-width="2" />
<line x1="634.20" y1="314.90" x2="637.90" y2="314.90" stroke="#000" stroke-width="1.3" />
<line x1="634.20" y1="325.50" x2="637.90" y2="325.50" stroke="#000" stroke-width="1.3" />
<line x1="630.80" y1="336.10" x2="638.00" y2="336.10" stroke="#000" stroke-width="2" />
<line x1="634.20" y1="346.80" x2="637.90" y2="346.80" stroke="#000" stroke-width="1.3" />
<line x1="634.20" y1="357.50" x2="637.90" y2="357.50" stroke="#000" stroke-width="1.3" />
<line x1="630.80" y1="368.20" x2="638.00" y2="368.20" stroke="#000" stroke-width="2" />
<line x1="634.20" y1="378.97" x2="637.90" y2="378.97" stroke="#000" stroke-width="1.3" />
<line x1="634.20" y1="389.73" x2="637.90" y2="389.73" stroke="#000" stroke-width="1.3" />
<line x1="630.80" y1="400.50" x2="638.00" y2="400.50" stroke="#000" stroke-width="2" />
<line x1="638.30" y1="401.00" x2="638.30" y2="408.00" stroke="#000" stroke-width="2" />
<line x1="650.58" y1="401.50" x2="650.58" y2="405.00" stroke="#000" stroke-width="1.4" />
<line x1="657.77" y1="401.50" x2="657.77" y2="405.00" stroke="#000" stroke-width="1.4" />
<line x1="662.86" y1="401.50" x2="662.86" y2="405.00" stroke="#000" stroke-width="1.4" />
<line x1="666.82" y1="401.50" x2="666.82" y2="405.00" stroke="#000" stroke-width="1.4" />
<line x1="670.05" y1="401.50" x2="670.05" y2="405.00" stroke="#000" stroke-width="1.4" />
<line x1="672.78" y1="401.50" x2="672.78" y2="405.00" stroke="#000" stroke-width="1.4" />
<line x1="675.15" y1="401.50" x2="675.15" y2="405.00" stroke="#000" stroke-width="1.4" />
<line x1="677.23" y1="401.50" x2="677.23" y2="405.00" stroke="#000" stroke-width="1.4" />
<line x1="679.10" y1="401.00" x2="679.10" y2="408.00" stroke="#000" stroke-width="2" />
<line x1="691.38" y1="401.50" x2="691.38" y2="405.00" stroke="#000" stroke-width="1.4" />
<line x1="698.57" y1="401.50" x2="698.57" y2="405.00" stroke="#000" stroke-width="1.4" />
<line x1="703.66" y1="401.50" x2="703.66" y2="405.00" stroke="#000" stroke-width="1.4" />
<line x1="707.62" y1="401.50" x2="707.62" y2="405.00" stroke="#000" stroke-width="1.4" />
<line x1="710.85" y1="401.50" x2="710.85" y2="405.00" stroke="#000" stroke-width="1.4" />
<line x1="713.58" y1="401.50" x2="713.58" y2="405.00" stroke="#000" stroke-width="1.4" />
<line x1="715.95" y1="401.50" x2="715.95" y2="405.00" stroke="#000" stroke-width="1.4" />
<line x1="718.03" y1="401.50" x2="718.03" y2="405.00" stroke="#000" stroke-width="1.4" />
<line x1="719.90" y1="401.00" x2="719.90" y2="408.00" stroke="#000" stroke-width="2" />
<line x1="732.18" y1="401.50" x2="732.18" y2="405.00" stroke="#000" stroke-width="1.4" />
<line x1="739.37" y1="401.50" x2="739.37" y2="405.00" stroke="#000" stroke-width="1.4" />
<line x1="744.46" y1="401.50" x2="744.46" y2="405.00" stroke="#000" stroke-width="1.4" />
<line x1="748.42" y1="401.50" x2="748.42" y2="405.00" stroke="#000" stroke-width="1.4" />
<line x1="751.65" y1="401.50" x2="751.65" y2="405.00" stroke="#000" stroke-width="1.4" />
<line x1="754.38" y1="401.50" x2="754.38" y2="405.00" stroke="#000" stroke-width="1.4" />
<line x1="756.75" y1="401.50" x2="756.75" y2="405.00" stroke="#000" stroke-width="1.4" />
<line x1="758.83" y1="401.50" x2="758.83" y2="405.00" stroke="#000" stroke-width="1.4" />
<line x1="760.70" y1="401.00" x2="760.70" y2="408.00" stroke="#000" stroke-width="2" />
<line x1="772.98" y1="401.50" x2="772.98" y2="405.00" stroke="#000" stroke-width="1.4" />
<line x1="780.17" y1="401.50" x2="780.17" y2="405.00" stroke="#000" stroke-width="1.4" />
<line x1="785.26" y1="401.50" x2="785.26" y2="405.00" stroke="#000" stroke-width="1.4" />
<line x1="789.22" y1="401.50" x2="789.22" y2="405.00" stroke="#000" stroke-width="1.4" />
<line x1="792.45" y1="401.50" x2="792.45" y2="405.00" stroke="#000" stroke-width="1.4" />
<line x1="795.18" y1="401.50" x2="795.18" y2="405.00" stroke="#000" stroke-width="1.4" />
<line x1="797.55" y1="401.50" x2="797.55" y2="405.00" stroke="#000" stroke-width="1.4" />
<line x1="799.63" y1="401.50" x2="799.63" y2="405.00" stroke="#000" stroke-width="1.4" />
<line x1="801.50" y1="401.00" x2="801.50" y2="408.00" stroke="#000" stroke-width="2" />
<path d="M638.50,372.00 C639.00,372.83 640.50,376.92 641.50,377.00 C642.50,377.08 643.42,375.33 644.50,372.50 C645.58,369.67 647.00,365.42 648.00,360.00 C649.00,354.58 649.87,346.33 650.50,340.00 C651.13,333.67 651.45,325.95 651.80,322.00 C652.15,318.05 652.15,317.97 652.60,316.30 C653.05,314.63 653.85,314.00 654.50,312.00 C655.15,310.00 656.50,304.30 656.50,304.30 C656.50,304.30 657.42,309.88 658.00,315.00 C658.58,320.12 659.25,328.17 660.00,335.00 C660.75,341.83 661.75,350.17 662.50,356.00 C663.25,361.83 663.83,366.00 664.50,370.00 C665.17,374.00 665.58,377.00 666.50,380.00 C667.42,383.00 668.82,385.50 670.00,388.00 C671.18,390.50 672.28,393.58 673.60,395.00 C674.92,396.42 677.18,396.25 677.90,396.50 L684,397.4" fill="none" stroke="#f04a48" stroke-width="1.2" stroke-linejoin="round"/>
<path d="M686.5,398.3 L690,398.3" fill="none" stroke="#f04a48" stroke-width="1.3"/>
<path d="M638.50,352.80 C638.72,355.50 639.32,365.05 639.80,369.00 C640.28,372.95 640.70,376.00 641.40,376.50 C642.10,377.00 642.98,374.75 644.00,372.00 C645.02,369.25 646.47,365.33 647.50,360.00 C648.53,354.67 649.65,346.67 650.20,340.00 C650.75,333.33 650.58,326.50 650.80,320.00 C651.02,313.50 651.50,301.00 651.50,301.00 C651.50,301.00 653.70,307.50 653.70,307.50 C653.70,307.50 655.90,296.80 655.90,296.80 C655.90,296.80 656.98,306.47 657.50,312.00 C658.02,317.53 658.53,325.33 659.00,330.00 C659.47,334.67 659.93,335.62 660.30,340.00 C660.67,344.38 660.83,351.13 661.20,356.30 C661.57,361.47 662.07,367.05 662.50,371.00 C662.93,374.95 663.07,377.20 663.80,380.00 C664.53,382.80 665.98,385.47 666.90,387.80 C667.82,390.13 668.32,392.43 669.30,394.00 C670.28,395.57 672.22,396.67 672.80,397.20 L681,397.5 L681.5,398.75 L704.4,398.75 L705,400.2 L802,400.2" fill="none" stroke="#1ed2d4" stroke-width="1.3" stroke-linejoin="round"/>
<line x1="637.90" y1="352.80" x2="637.90" y2="401.00" stroke="#3aa6a8" stroke-width="1.6" />
<rect x="849.50" y="272.50" width="168.60" height="128.00" fill="none" stroke="#c0c0c0" stroke-width="1.25"/>
<line x1="842.40" y1="273.70" x2="849.60" y2="273.70" stroke="#000" stroke-width="2" />
<line x1="845.80" y1="283.70" x2="849.50" y2="283.70" stroke="#000" stroke-width="1.3" />
<line x1="845.80" y1="293.70" x2="849.50" y2="293.70" stroke="#000" stroke-width="1.3" />
<line x1="842.40" y1="303.70" x2="849.60" y2="303.70" stroke="#000" stroke-width="2" />
<line x1="845.80" y1="314.50" x2="849.50" y2="314.50" stroke="#000" stroke-width="1.3" />
<line x1="845.80" y1="325.30" x2="849.50" y2="325.30" stroke="#000" stroke-width="1.3" />
<line x1="842.40" y1="336.10" x2="849.60" y2="336.10" stroke="#000" stroke-width="2" />
<line x1="845.80" y1="346.33" x2="849.50" y2="346.33" stroke="#000" stroke-width="1.3" />
<line x1="845.80" y1="356.57" x2="849.50" y2="356.57" stroke="#000" stroke-width="1.3" />
<line x1="842.40" y1="366.80" x2="849.60" y2="366.80" stroke="#000" stroke-width="2" />
<line x1="845.80" y1="377.77" x2="849.50" y2="377.77" stroke="#000" stroke-width="1.3" />
<line x1="845.80" y1="388.73" x2="849.50" y2="388.73" stroke="#000" stroke-width="1.3" />
<line x1="842.40" y1="399.70" x2="849.60" y2="399.70" stroke="#000" stroke-width="2" />
<line x1="850.10" y1="400.00" x2="850.10" y2="407.00" stroke="#000" stroke-width="2" />
<line x1="862.65" y1="400.50" x2="862.65" y2="404.00" stroke="#000" stroke-width="1.4" />
<line x1="870.00" y1="400.50" x2="870.00" y2="404.00" stroke="#000" stroke-width="1.4" />
<line x1="875.21" y1="400.50" x2="875.21" y2="404.00" stroke="#000" stroke-width="1.4" />
<line x1="879.25" y1="400.50" x2="879.25" y2="404.00" stroke="#000" stroke-width="1.4" />
<line x1="882.55" y1="400.50" x2="882.55" y2="404.00" stroke="#000" stroke-width="1.4" />
<line x1="885.34" y1="400.50" x2="885.34" y2="404.00" stroke="#000" stroke-width="1.4" />
<line x1="887.76" y1="400.50" x2="887.76" y2="404.00" stroke="#000" stroke-width="1.4" />
<line x1="889.89" y1="400.50" x2="889.89" y2="404.00" stroke="#000" stroke-width="1.4" />
<line x1="891.80" y1="400.00" x2="891.80" y2="407.00" stroke="#000" stroke-width="2" />
<line x1="904.35" y1="400.50" x2="904.35" y2="404.00" stroke="#000" stroke-width="1.4" />
<line x1="911.70" y1="400.50" x2="911.70" y2="404.00" stroke="#000" stroke-width="1.4" />
<line x1="916.91" y1="400.50" x2="916.91" y2="404.00" stroke="#000" stroke-width="1.4" />
<line x1="920.95" y1="400.50" x2="920.95" y2="404.00" stroke="#000" stroke-width="1.4" />
<line x1="924.25" y1="400.50" x2="924.25" y2="404.00" stroke="#000" stroke-width="1.4" />
<line x1="927.04" y1="400.50" x2="927.04" y2="404.00" stroke="#000" stroke-width="1.4" />
<line x1="929.46" y1="400.50" x2="929.46" y2="404.00" stroke="#000" stroke-width="1.4" />
<line x1="931.59" y1="400.50" x2="931.59" y2="404.00" stroke="#000" stroke-width="1.4" />
<line x1="933.50" y1="400.00" x2="933.50" y2="407.00" stroke="#000" stroke-width="2" />
<line x1="946.05" y1="400.50" x2="946.05" y2="404.00" stroke="#000" stroke-width="1.4" />
<line x1="953.40" y1="400.50" x2="953.40" y2="404.00" stroke="#000" stroke-width="1.4" />
<line x1="958.61" y1="400.50" x2="958.61" y2="404.00" stroke="#000" stroke-width="1.4" />
<line x1="962.65" y1="400.50" x2="962.65" y2="404.00" stroke="#000" stroke-width="1.4" />
<line x1="965.95" y1="400.50" x2="965.95" y2="404.00" stroke="#000" stroke-width="1.4" />
<line x1="968.74" y1="400.50" x2="968.74" y2="404.00" stroke="#000" stroke-width="1.4" />
<line x1="971.16" y1="400.50" x2="971.16" y2="404.00" stroke="#000" stroke-width="1.4" />
<line x1="973.29" y1="400.50" x2="973.29" y2="404.00" stroke="#000" stroke-width="1.4" />
<line x1="975.20" y1="400.00" x2="975.20" y2="407.00" stroke="#000" stroke-width="2" />
<line x1="987.75" y1="400.50" x2="987.75" y2="404.00" stroke="#000" stroke-width="1.4" />
<line x1="995.10" y1="400.50" x2="995.10" y2="404.00" stroke="#000" stroke-width="1.4" />
<line x1="1000.31" y1="400.50" x2="1000.31" y2="404.00" stroke="#000" stroke-width="1.4" />
<line x1="1004.35" y1="400.50" x2="1004.35" y2="404.00" stroke="#000" stroke-width="1.4" />
<line x1="1007.65" y1="400.50" x2="1007.65" y2="404.00" stroke="#000" stroke-width="1.4" />
<line x1="1010.44" y1="400.50" x2="1010.44" y2="404.00" stroke="#000" stroke-width="1.4" />
<line x1="1012.86" y1="400.50" x2="1012.86" y2="404.00" stroke="#000" stroke-width="1.4" />
<line x1="1014.99" y1="400.50" x2="1014.99" y2="404.00" stroke="#000" stroke-width="1.4" />
<line x1="1016.90" y1="400.00" x2="1016.90" y2="407.00" stroke="#000" stroke-width="2" />
<path d="M850.30,368.00 C850.42,369.33 850.52,374.67 851.00,376.00 C851.48,377.33 852.37,376.50 853.20,376.00 C854.03,375.50 855.20,374.67 856.00,373.00 C856.80,371.33 857.33,369.83 858.00,366.00 C858.67,362.17 859.25,356.00 860.00,350.00 C860.75,344.00 861.57,337.50 862.50,330.00 C863.43,322.50 864.72,310.57 865.60,305.00 C866.48,299.43 867.80,296.60 867.80,296.60 C867.80,296.60 869.52,302.43 870.30,308.00 C871.08,313.57 871.80,323.00 872.50,330.00 C873.20,337.00 873.92,344.33 874.50,350.00 C875.08,355.67 875.47,359.67 876.00,364.00 C876.53,368.33 876.95,372.67 877.70,376.00 C878.45,379.33 879.33,381.33 880.50,384.00 C881.67,386.67 883.58,390.00 884.75,392.00 C885.92,394.00 886.62,395.17 887.50,396.00 C888.38,396.83 889.58,396.83 890.00,397.00" fill="none" stroke="#f04a48" stroke-width="1.2" stroke-linejoin="round"/>
<path d="M850.30,360.70 C850.35,362.75 850.12,370.67 850.60,373.00 C851.08,375.33 852.38,374.87 853.20,374.70 C854.02,374.53 854.78,373.32 855.50,372.00 C856.22,370.68 856.83,370.47 857.50,366.80 C858.17,363.13 858.75,356.13 859.50,350.00 C860.25,343.87 861.02,338.33 862.00,330.00 C862.98,321.67 864.43,306.60 865.40,300.00 C866.37,293.40 867.80,290.40 867.80,290.40 C867.80,290.40 869.67,293.40 870.30,300.00 C870.93,306.60 871.07,321.67 871.60,330.00 C872.13,338.33 873.07,345.67 873.50,350.00 C873.93,354.33 873.87,352.67 874.20,356.00 C874.53,359.33 875.17,366.67 875.50,370.00 C875.83,373.33 875.83,373.70 876.20,376.00 C876.57,378.30 876.73,381.20 877.70,383.80 C878.67,386.40 880.70,389.45 882.00,391.60 C883.30,393.75 884.92,395.85 885.50,396.70 L897.25,397.2 L898,398.7 L904.3,398.7 L905.8,399.4 L1017,399.4" fill="none" stroke="#1ed2d4" stroke-width="1.3" stroke-linejoin="round"/>
<line x1="849.50" y1="360.70" x2="849.50" y2="400.00" stroke="#3aa6a8" stroke-width="1.6" />
<line x1="66.20" y1="410.00" x2="68.40" y2="410.00" stroke="#555" stroke-width="1.1" />
<line x1="127.20" y1="410.00" x2="129.40" y2="410.00" stroke="#555" stroke-width="1.1" />
<line x1="187.80" y1="410.00" x2="189.00" y2="410.00" stroke="#777" stroke-width="1.1" />
<line x1="426.80" y1="272.60" x2="426.80" y2="276.00" stroke="#aaa" stroke-width="1.1" />
<line x1="426.80" y1="301.50" x2="426.80" y2="304.90" stroke="#aaa" stroke-width="1.1" />
<line x1="426.80" y1="333.30" x2="426.80" y2="336.70" stroke="#aaa" stroke-width="1.1" />
<line x1="426.80" y1="366.90" x2="426.80" y2="370.30" stroke="#aaa" stroke-width="1.1" />
<line x1="426.80" y1="393.30" x2="426.80" y2="396.70" stroke="#aaa" stroke-width="1.1" />
<text x="216.94" y="17.52" font-size="19" textLength="17.01" lengthAdjust="spacingAndGlyphs">A.</text>
<text x="418.06" y="22.94" font-size="17" textLength="28.07" lengthAdjust="spacingAndGlyphs">T1D</text>
<text x="649.48" y="29.70" font-size="17" textLength="54.70" lengthAdjust="spacingAndGlyphs">Control</text>
<text x="313.18" y="23.16" font-size="13.5" textLength="15.20" lengthAdjust="spacingAndGlyphs">20</text>
<text x="313.76" y="91.16" font-size="13.5" textLength="14.65" lengthAdjust="spacingAndGlyphs">10</text>
<text x="319.84" y="163.81" font-size="13.5" textLength="6.62" lengthAdjust="spacingAndGlyphs">0</text>
<text x="353.92" y="176.20" font-size="13.5" textLength="8.37" lengthAdjust="spacingAndGlyphs">0</text>
<text x="388.48" y="176.20" font-size="13.5" textLength="14.86" lengthAdjust="spacingAndGlyphs">50</text>
<text x="424.16" y="176.20" font-size="13.5" textLength="22.36" lengthAdjust="spacingAndGlyphs">100</text>
<text x="456.82" y="176.20" font-size="13.5" textLength="30.04" lengthAdjust="spacingAndGlyphs">1000</text>
<text x="497.10" y="176.20" font-size="13.5" textLength="37.57" lengthAdjust="spacingAndGlyphs">10000</text>
<text x="590.83" y="176.94" font-size="13.5" textLength="8.02" lengthAdjust="spacingAndGlyphs">0</text>
<text x="625.48" y="176.94" font-size="13.5" textLength="14.86" lengthAdjust="spacingAndGlyphs">50</text>
<text x="664.16" y="176.94" font-size="13.5" textLength="22.52" lengthAdjust="spacingAndGlyphs">100</text>
<text x="703.85" y="176.94" font-size="13.5" textLength="29.48" lengthAdjust="spacingAndGlyphs">1000</text>
<text x="743.85" y="176.94" font-size="13.5" textLength="37.66" lengthAdjust="spacingAndGlyphs">10000</text>
<text x="420.98" y="62.10" font-size="13.3" textLength="24.25" lengthAdjust="spacingAndGlyphs">N.S.</text>
<text x="382.82" y="93.86" font-size="13.3" textLength="24.22" lengthAdjust="spacingAndGlyphs">N.S.</text>
<text x="658.98" y="62.10" font-size="13.3" textLength="24.01" lengthAdjust="spacingAndGlyphs">N.S.</text>
<text x="620.82" y="93.86" font-size="13.3" textLength="24.22" lengthAdjust="spacingAndGlyphs">N.S.</text>
<text x="2.62" y="245.06" font-size="18.5" textLength="15.85" lengthAdjust="spacingAndGlyphs">B.</text>
<text transform="translate(291.68,149.99) rotate(-90)" font-size="14.2" textLength="36.02" lengthAdjust="spacingAndGlyphs">TNFR1</text>
<text transform="translate(291.68,110.16) rotate(-90)" font-size="14.2" textLength="45.94" lengthAdjust="spacingAndGlyphs">Median</text>
<text transform="translate(291.68,61.46) rotate(-90)" font-size="14.2" textLength="53.88" lengthAdjust="spacingAndGlyphs">Intensity</text>
<text transform="translate(22.68,366.00) rotate(-90)" font-size="14.2" textLength="29.32" lengthAdjust="spacingAndGlyphs">Treg</text>
<text transform="translate(22.68,333.88) rotate(-90)" font-size="14.2" textLength="43.65" lengthAdjust="spacingAndGlyphs">Counts</text>
<text x="409.30" y="448.96" font-size="13.1" textLength="38.50" lengthAdjust="spacingAndGlyphs">TNFR1</text>
<text x="451.84" y="448.96" font-size="13.1" textLength="79.12" lengthAdjust="spacingAndGlyphs">Fluorescence</text>
<text x="534.24" y="448.96" font-size="13.1" textLength="51.87" lengthAdjust="spacingAndGlyphs">Intensity</text>
<text x="590.56" y="448.96" font-size="13.1" textLength="27.40" lengthAdjust="spacingAndGlyphs">(log)</text>
<text x="410.78" y="199.79" font-size="16.3" textLength="20.20" lengthAdjust="spacingAndGlyphs">IL2</text>
<text x="436.24" y="199.79" font-size="16.3" textLength="39.90" lengthAdjust="spacingAndGlyphs">U/mL</text>
<text x="659.21" y="198.25" font-size="16.3" textLength="20.02" lengthAdjust="spacingAndGlyphs">IL2</text>
<text x="684.51" y="198.25" font-size="16.3" textLength="40.07" lengthAdjust="spacingAndGlyphs">U/mL</text>
<text x="95.42" y="423.48" font-size="13.8" textLength="7.34" lengthAdjust="spacingAndGlyphs">0</text>
<text x="109.60" y="423.48" font-size="13.8" textLength="17.65" lengthAdjust="spacingAndGlyphs">IL2</text>
<text x="288.19" y="426.06" font-size="13.8" textLength="24.90" lengthAdjust="spacingAndGlyphs">50U</text>
<text x="316.70" y="426.06" font-size="13.8" textLength="17.56" lengthAdjust="spacingAndGlyphs">IL2</text>
<text x="487.76" y="428.52" font-size="13.8" textLength="31.65" lengthAdjust="spacingAndGlyphs">100U</text>
<text x="522.84" y="428.52" font-size="13.8" textLength="17.05" lengthAdjust="spacingAndGlyphs">IL2</text>
<text x="685.00" y="427.20" font-size="13.8" textLength="42.18" lengthAdjust="spacingAndGlyphs">1,000U</text>
<text x="732.10" y="427.20" font-size="13.8" textLength="16.35" lengthAdjust="spacingAndGlyphs">IL2</text>
<text x="891.70" y="429.86" font-size="13.8" textLength="50.86" lengthAdjust="spacingAndGlyphs">10,000U</text>
<text x="946.70" y="429.86" font-size="13.8" textLength="16.97" lengthAdjust="spacingAndGlyphs">IL2</text>
</svg>
</body></html>
